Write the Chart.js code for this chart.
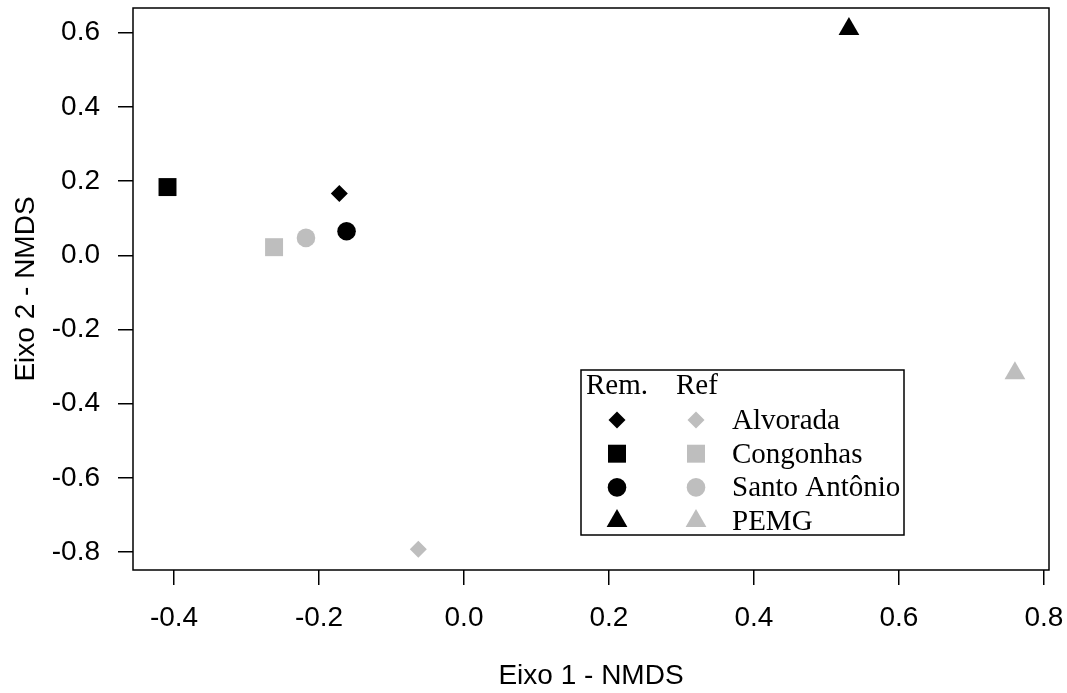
<!DOCTYPE html>
<html>
<head>
<meta charset="utf-8">
<script src="https://cdn.jsdelivr.net/npm/chart.js@4/dist/chart.umd.min.js"></script>
<style>
  body { margin: 0; background: #fff; }
  canvas { display: block; }
</style>
</head>
<body>
<canvas id="nmdsChart" width="1067" height="693"></canvas>
<script>
// NMDS scores per site, remnant (Rem.) and reference (Ref) areas
var sites = ['Alvorada', 'Congonhas', 'Santo Antônio', 'PEMG'];
var remX = [-0.172, -0.409, -0.162, 0.531];
var remY = [0.167, 0.184, 0.065, 0.610];
var refX = [-0.063, -0.262, -0.218, 0.760];
var refY = [-0.792, 0.022, 0.047, -0.318];
var xTicks = [-0.4, -0.2, 0.0, 0.2, 0.4, 0.6, 0.8];
var yTicks = [-0.8, -0.6, -0.4, -0.2, 0.0, 0.2, 0.4, 0.6];

var shapes = ['rectRot', 'rect', 'circle', 'triangle'];
var sizes = [8.5, 12.7, 9.3, 12];
var black = '#000000';
var grey = '#bebebe';

function toPoints(xs, ys){
    var pts = [];
    for (var i = 0; i < xs.length; i++){
        pts.push({x: xs[i], y: ys[i]});
    }
    return pts;
}

// pull the plot box up to the top margin (chart.js reserves room for the top label)
var topFix = {
    id: 'topFix',
    afterLayout: function(chart){
        var top = 8;
        var y = chart.scales.y;
        chart.chartArea.top = top;
        chart.chartArea.height = chart.chartArea.bottom - top;
        y.top = top;
        y.height = y.bottom - top;
        y.configure();
    }
};

var boxPlugin = {
    id: 'boxPlugin',
    afterDraw: function(chart){
        var ctx = chart.ctx;
        var a = chart.chartArea;
        ctx.save();
        ctx.strokeStyle = '#000';
        ctx.lineWidth = 1.5;
        ctx.strokeRect(a.left, a.top, a.right - a.left, a.bottom - a.top);

        // legend box
        var lx = a.left + 448, ly = a.top + 362, lw = 323, lh = 165;
        ctx.fillStyle = '#fff';
        ctx.fillRect(lx, ly, lw, lh);
        ctx.strokeRect(lx, ly, lw, lh);
        ctx.fillStyle = '#000';
        ctx.font = '29px "Liberation Serif", "Times New Roman", serif';
        ctx.textBaseline = 'alphabetic';
        ctx.textAlign = 'left';
        ctx.fillText('Rem.', lx + 5, ly + 24);
        ctx.fillText('Ref', lx + 95, ly + 24);
        for (var i = 0; i < sites.length; i++){
            var cy = ly + 50 + i * 33.7;
            ctx.fillStyle = black;
            Chart.helpers.drawPoint(ctx, {pointStyle: shapes[i], radius: sizes[i], rotation: 0, borderWidth: 0}, lx + 36, cy);
            ctx.fillStyle = grey;
            Chart.helpers.drawPoint(ctx, {pointStyle: shapes[i], radius: sizes[i], rotation: 0, borderWidth: 0}, lx + 115, cy);
            ctx.fillStyle = '#000';
            ctx.fillText(sites[i], lx + 151, cy + 9);
        }
        ctx.restore();
    }
};

var tickFont = {family: '"Liberation Sans", Arial, sans-serif', size: 28};

var ctx = document.getElementById('nmdsChart').getContext('2d');
var myChart = new Chart(ctx, {
    type: 'scatter',
    data: {
        datasets: [
            {
                label: 'Rem.',
                data: toPoints(remX, remY),
                pointStyle: shapes,
                pointRadius: sizes,
                pointHoverRadius: sizes,
                backgroundColor: black,
                borderColor: black,
                borderWidth: 0
            },
            {
                label: 'Ref',
                data: toPoints(refX, refY),
                pointStyle: shapes,
                pointRadius: sizes,
                pointHoverRadius: sizes,
                backgroundColor: grey,
                borderColor: grey,
                borderWidth: 0
            }
        ]
    },
    options: {
        responsive: false,
        animation: false,
        layout: {
            padding: {top: 8, right: 18, left: 0, bottom: 0}
        },
        plugins: {
            legend: {display: false},
            tooltip: {enabled: false}
        },
        scales: {
            x: {
                type: 'linear',
                min: -0.4566,
                max: 0.807,
                afterBuildTicks: function(scale){
                    scale.ticks = xTicks.map(function(v){ return {value: v}; });
                },
                afterFit: function(scale){
                    scale.height = 123;
                    scale.paddingLeft = 0;
                    scale.paddingRight = 0;
                },
                grid: {display: true, drawOnChartArea: false, drawTicks: true, tickLength: 15, color: '#000', lineWidth: 1.5},
                border: {display: false},
                ticks: {
                    color: '#000',
                    font: tickFont,
                    padding: 16,
                    maxRotation: 0,
                    callback: function(v){ return v.toFixed(1); }
                },
                title: {
                    display: true,
                    text: 'Eixo 1 - NMDS',
                    color: '#000',
                    font: tickFont,
                    padding: {top: 0, bottom: 0}
                }
            },
            y: {
                type: 'linear',
                min: -0.848,
                max: 0.6666,
                afterBuildTicks: function(scale){
                    scale.ticks = yTicks.map(function(v){ return {value: v}; });
                },
                afterFit: function(scale){
                    scale.width = 133;
                },
                grid: {display: true, drawOnChartArea: false, drawTicks: true, tickLength: 15, color: '#000', lineWidth: 1.5},
                border: {display: false},
                ticks: {
                    color: '#000',
                    font: tickFont,
                    padding: 18,
                    callback: function(v){ return v.toFixed(1); }
                },
                title: {
                    display: true,
                    text: 'Eixo 2 - NMDS',
                    color: '#000',
                    font: tickFont,
                    padding: {top: 9, bottom: 0}
                }
            }
        }
    },
    plugins: [topFix, boxPlugin]
});
</script>
</body>
</html>
